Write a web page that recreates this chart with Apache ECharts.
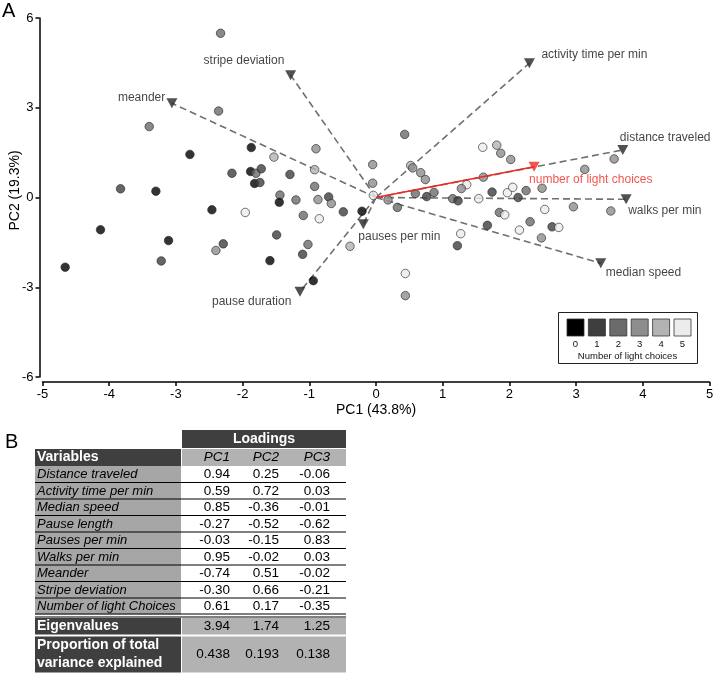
<!DOCTYPE html>
<html>
<head>
<meta charset="utf-8">
<script src="https://cdn.jsdelivr.net/npm/echarts@6/dist/echarts.min.js"></script>
<style>
html,body{margin:0;padding:0;background:#fff;}
#chart{width:716px;height:675px;}
</style>
</head>
<body>
<div id="chart"></div>
<script>
// ---------- Panel A data ----------
const pointPC1 = [-2.33,-2.36,-3.40,-2.79,-3.83,-3.30,-2.46,-4.13,-3.11,-2.29,-2.40,-3.22,-4.66,
  -1.87,-1.53,-0.90,-2.16,-1.88,-1.80,-1.72,-1.82,-1.74,-1.29,-0.92,-0.05,-0.05,-0.92,-1.44,-1.45,
  -1.20,-0.87,-0.71,-0.67,-1.96,-0.49,-0.21,-1.09,-0.85,-0.04,-1.49,-1.02,-0.39,-1.10,-1.59,-0.94,
  0.18,0.32,0.43,0.52,0.55,0.67,0.74,0.59,0.76,0.87,1.60,1.81,1.87,2.02,1.61,1.36,1.28,1.15,1.23,
  1.54,1.74,1.97,2.05,2.13,2.25,2.49,3.13,3.57,2.53,2.96,3.52,1.85,1.93,1.67,2.31,2.15,2.64,2.74,
  2.48,1.27,1.22,0.44,0.44];
const pointPC2 = [5.49,2.89,2.37,1.44,0.29,0.21,-0.41,-1.08,-1.44,-1.55,-1.77,-2.12,-2.33,
  1.67,1.35,1.63,0.81,0.87,0.81,0.96,0.47,0.50,0.77,0.93,1.10,0.48,0.37,0.08,-0.16,
  -0.08,-0.07,0.02,-0.20,-0.50,-0.48,-0.46,-0.60,-0.71,0.07,-1.25,-1.57,-1.63,-1.90,-2.11,-2.78,
  -0.08,-0.33,2.11,1.07,0.99,0.83,0.60,0.13,0.03,0.17,1.68,1.75,1.48,1.27,0.68,0.43,0.30,-0.04,-0.11,
  -0.04,0.18,0.16,0.34,0.00,0.23,0.31,0.94,1.29,-0.40,-0.31,-0.45,-0.50,-0.58,-0.93,-0.81,-1.09,-0.98,-1.00,
  -1.35,-1.21,-1.61,-2.54,-3.28];
const pointLight = [2,2,2,0,1,0,0,0,0,1,3,1,0,
  0,4,3,1,0,2,1,0,1,1,4,3,3,2,2,0,
  2,3,1,3,5,1,0,2,5,5,1,2,4,1,0,0,
  3,2,2,4,3,3,3,2,1,2,5,4,3,3,3,5,3,2,1,
  5,1,5,5,1,2,3,3,3,5,3,3,2,5,1,2,5,1,5,
  3,5,1,5,3];
const lightLevels = ['0','1','2','3','4','5'];

const loadingNames = ['distance traveled','activity time per min','median speed','pause duration',
  'pauses per min','walks per min','meander','stripe deviation','number of light choices'];
const arrowPC1 = [3.70, 2.30, 3.37, -1.14, -0.19, 3.75, -3.06, -1.28, 2.37];
const arrowPC2 = [1.59, 4.49, -2.20, -3.15, -0.89, -0.06, 3.15, 4.09, 1.03];

const xTicks = [-5,-4,-3,-2,-1,0,1,2,3,4,5];
const yTicks = [-6,-3,0,3,6];

// ---------- Panel B data ----------
const tableVars = ['Distance traveled','Activity time per min','Median speed','Pause length',
  'Pauses per min','Walks per min','Meander','Stripe deviation','Number of light Choices'];
const loadPC1 = [0.94, 0.59, 0.85, -0.27, -0.03, 0.95, -0.74, -0.30, 0.61];
const loadPC2 = [0.25, 0.72, -0.36, -0.52, -0.15, -0.02, 0.51, 0.66, 0.17];
const loadPC3 = [-0.06, 0.03, -0.01, -0.62, 0.83, 0.03, -0.02, -0.21, -0.35];
const pcNames = ['PC1','PC2','PC3'];
const eigenvalues = [3.94, 1.74, 1.25];
const propVariance = [0.438, 0.193, 0.138];

// ---------- styles ----------
const FONT = '"Liberation Sans", Arial, Helvetica, sans-serif';
const levelColors = ['#000000','#3e3e3e','#6b6b6b','#8d8d8d','#b3b3b3','#ececec'];
const labelOffsets = [[-3,-12],[12,-8],[5,9],[-88,10],[-5,13],[2,11],[-54,-6],[-87,-14],[-5,13]];
const RED = '#ee2a24';

const chart = echarts.init(document.getElementById('chart'), null, {renderer:'canvas'});

const series = [];
loadingNames.forEach((n,i)=>{
  const isRed = i === loadingNames.length-1;
  series.push({
    type:'line', silent:true, animation:false, symbol:'none', z: isRed?4:1,
    data:[[0,0],[arrowPC1[i],arrowPC2[i]]],
    lineStyle: isRed ? {color:RED, width:1.6, type:'solid'} : {color:'#707070', width:1.6, type:[7,4]}
  });
});
series.push({
  type:'scatter', animation:false, z:2, symbolSize:8.5,
  data: pointPC1.map((x,i)=>({value:[x,pointPC2[i]], itemStyle:{color:levelColors[pointLight[i]]}})),
  itemStyle:{borderColor:'#262626', borderWidth:0.8}
});
series.push({
  type:'scatter', animation:false, z:5, symbol:'triangle', symbolRotate:180, symbolSize:[11,10],
  data: loadingNames.map((n,i)=>{
    const isRed = i === loadingNames.length-1;
    return {name:n, value:[arrowPC1[i],arrowPC2[i]],
      itemStyle:{color: isRed?RED:'#262626'},
      label:{show:true, formatter:n, position:'inside', align:'left', verticalAlign:'middle',
        offset:labelOffsets[i], color: isRed?RED:'#111', fontSize:12, fontFamily:FONT}};
  })
});

const graphics = [];
graphics.push({type:'text', style:{text:'A', x:2, y:11, font:'20px '+FONT, fill:'#000', verticalAlign:'middle'}});
graphics.push({type:'text', style:{text:'B', x:5, y:442, font:'20px '+FONT, fill:'#000', verticalAlign:'middle'}});

graphics.push({type:'rect', shape:{x:558.5,y:312.5,width:139,height:51}, style:{fill:'#fff', stroke:'#222', lineWidth:1}});
lightLevels.forEach((lv,i)=>{
  const x0 = 567 + i*21.4;
  graphics.push({type:'rect', shape:{x:x0,y:319,width:17,height:17}, style:{fill:levelColors[i], stroke:'#333', lineWidth:0.8}});
  graphics.push({type:'text', style:{text:lv, x:x0+8.5, y:344, font:'9.5px '+FONT, fill:'#111', align:'center', verticalAlign:'middle'}});
});
graphics.push({type:'text', style:{text:'Number of light choices', x:627.5, y:356.5, font:'9.5px '+FONT, fill:'#111', align:'center', verticalAlign:'middle'}});

const T = {L:35, M:181, R:346, dark:'#3f3f3f', grayL:'#a6a6a6', grayR:'#b2b2b2'};
const colRight = [230, 279, 330];
function rect(x,y,w,h,fill){graphics.push({type:'rect', shape:{x:x,y:y,width:w,height:h}, style:{fill:fill}});}
function hline(y,x1,x2,w){graphics.push({type:'line', shape:{x1:x1,y1:y,x2:x2,y2:y}, style:{stroke:'#000', lineWidth:w||1}});}
function txt(t,x,y,opt){graphics.push({type:'text', style:Object.assign({text:t, x:x, y:y, fill:'#000',
  font:'13px '+FONT, align:'left', verticalAlign:'middle'}, opt||{})});}

rect(T.M+1, 430, T.R-T.M-1, 18, T.dark);
txt('Loadings', (T.M+1+T.R)/2, 439, {fill:'#fff', font:'bold 14px '+FONT, align:'center'});
rect(T.L, 449, T.M-T.L, 17, T.dark);
rect(T.M+1, 449, T.R-T.M-1, 17, T.grayR);
txt('Variables', 37, 457.5, {fill:'#fff', font:'bold 14px '+FONT});
pcNames.forEach((p,j)=>txt(p, colRight[j], 457.5, {font:'italic 13.5px '+FONT, align:'right'}));
const rowTop = 466, rowH = 16.5;
tableVars.forEach((v,i)=>{
  const y0 = rowTop + i*rowH;
  rect(T.L, y0, T.M-T.L, rowH, T.grayL);
  txt(v, 37, y0+rowH/2+0.5, {font:'italic 13px '+FONT});
  [loadPC1[i],loadPC2[i],loadPC3[i]].forEach((val,j)=>txt(val.toFixed(2), colRight[j], y0+rowH/2+0.5, {font:'13.5px '+FONT, align:'right'}));
});
for(let i=1;i<tableVars.length;i++) hline(rowTop+i*rowH, T.L, T.R, 1);
const dataBottom = rowTop + tableVars.length*rowH;
hline(dataBottom-0.5, T.L, T.R, 1.2);
hline(dataBottom+2.5, T.L, T.R, 1.2);
const eTop = dataBottom+3.5, eH = 16.5;
rect(T.L, eTop, T.M-T.L, eH, T.dark);
rect(T.M+1, eTop, T.R-T.M-1, eH, T.grayR);
txt('Eigenvalues', 37, eTop+eH/2, {fill:'#fff', font:'bold 14px '+FONT});
eigenvalues.forEach((val,j)=>txt(val.toFixed(2), colRight[j], eTop+eH/2, {font:'13.5px '+FONT, align:'right'}));
const pTop = eTop+eH+2, pH = 36;
rect(T.L, pTop, T.M-T.L, pH, T.dark);
rect(T.M+1, pTop, T.R-T.M-1, pH, T.grayR);
txt('Proportion of total', 37, pTop+8.5, {fill:'#fff', font:'bold 14px '+FONT});
txt('variance explained', 37, pTop+26.5, {fill:'#fff', font:'bold 14px '+FONT});
propVariance.forEach((val,j)=>txt(val.toFixed(3), colRight[j], pTop+pH/2, {font:'13.5px '+FONT, align:'right'}));

const axisCommon = {
  axisLine:{show:true, onZero:false, lineStyle:{color:'#000', width:1.5}},
  axisTick:{show:true, length:4, lineStyle:{color:'#000', width:1.5}},
  splitLine:{show:false},
  nameMoveOverlap:false,
  nameTextStyle:{fontSize:14, color:'#000', fontFamily:FONT}
};

chart.setOption({
  animation:false,
  backgroundColor:'#fff',
  textStyle:{fontFamily:FONT},
  grid:{left:42.5, right:6.5, top:18, bottom:298, containLabel:false, outerBoundsMode:'none'},
  xAxis: Object.assign({}, axisCommon, {
    type:'value', min:xTicks[0], max:xTicks[xTicks.length-1], interval:xTicks[1]-xTicks[0], offset:5,
    axisLabel:{fontSize:13, color:'#000', margin:6, fontFamily:FONT},
    name:'PC1 (43.8%)', nameLocation:'middle', nameGap:21
  }),
  yAxis: Object.assign({}, axisCommon, {
    type:'value', min:yTicks[0], max:yTicks[yTicks.length-1], interval:yTicks[1]-yTicks[0], offset:3,
    axisLabel:{fontSize:13, color:'#000', margin:6, fontFamily:FONT},
    name:'PC2 (19.3%)', nameLocation:'middle', nameGap:17, nameRotate:90,
    nameTextStyle:{fontSize:14, color:'#000', fontFamily:FONT, padding:[0,0,0,14]}
  }),
  series: series,
  graphic: graphics
});
</script>
</body>
</html>
